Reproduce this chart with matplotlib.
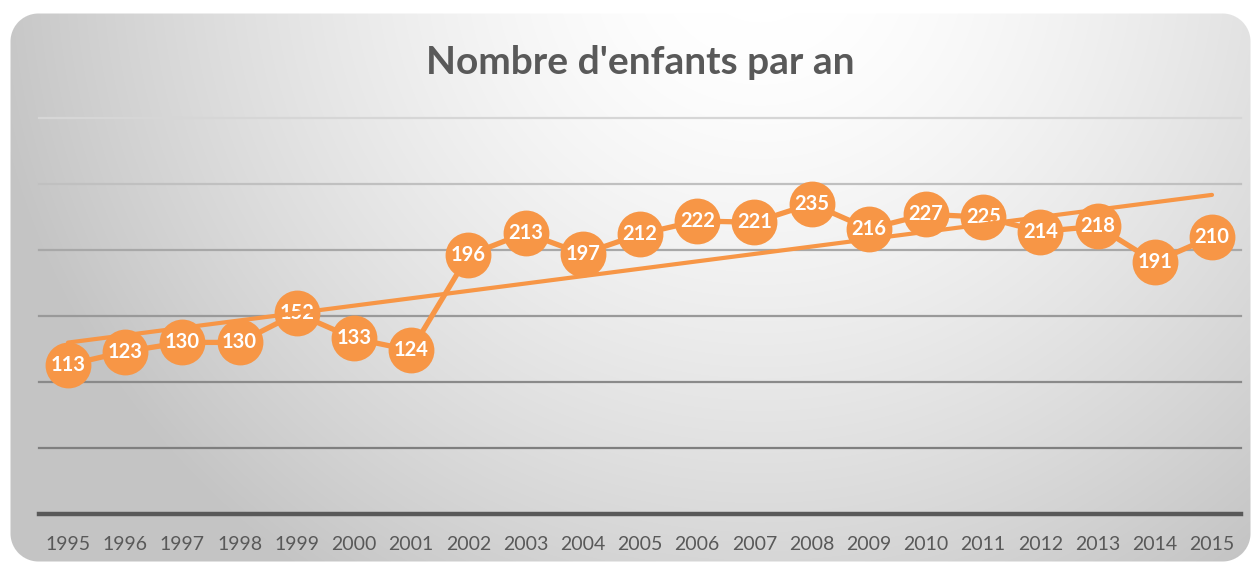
import numpy as np
import matplotlib
matplotlib.use("Agg")
import matplotlib.pyplot as plt

years = ["1995", "1996", "1997", "1998", "1999", "2000", "2001", "2002", "2003", "2004",
         "2005", "2006", "2007", "2008", "2009", "2010", "2011", "2012", "2013", "2014", "2015"]
enfants = [113, 123, 130, 130, 152, 133, 124, 196, 213, 197,
           212, 222, 221, 235, 216, 227, 225, 214, 218, 191, 210]
title = "Nombre d'enfants par an"
y_ticks = [0, 50, 100, 150, 200, 250, 300]

ORANGE = "#F79646"
W, H = 1258, 563
fig = plt.figure(figsize=(W / 100, H / 100), dpi=100)

# background: rounded rectangle with radial gray gradient
yy, xx = np.mgrid[0:H, 0:W].astype(float)
d = np.sqrt(((xx - 760) / 640) ** 2 + ((yy + 40) / 620) ** 2)
c = np.clip(255 - 50 * np.clip(d - 0.1, 0, None) ** 1.4, 196, 255) / 255.0
x0, x1, y0, y1, r = 10, 1250, 13, 561, 28
cx = np.clip(xx, x0 + r, x1 - r)
cy = np.clip(yy, y0 + r, y1 - r)
dist = np.sqrt((xx - cx) ** 2 + (yy - cy) ** 2) - r
alpha = np.clip(0.5 - dist, 0, 1)
img = np.ones((H, W, 4))
img[..., 0] = img[..., 1] = img[..., 2] = c
img[..., 3] = alpha
fig.figimage(img, xo=0, yo=0, origin="upper", zorder=-10)

left = 39.4 / W
right = 1240.6 / W
bottom = (H - 514) / H
top = (H - 118) / H
ax = fig.add_axes([left, bottom, right - left, top - bottom])
ax.set_zorder(5)
ax.patch.set_alpha(0)
x = np.arange(len(years))
ax.set_xlim(-0.5, len(years) - 0.5)
ax.set_ylim(y_ticks[0], y_ticks[-1])
for s in ax.spines.values():
    s.set_visible(False)

grid_colors = ["#595959", "#7f7f7f", "#8a8a8a", "#999999", "#a8a8a8", "#c0c0c0", "#d6d6d6"]
for v, gc in zip(y_ticks, grid_colors):
    ax.axhline(v, color=gc, lw=3.2 if v == 0 else 1.6, zorder=1, clip_on=False)

ax.plot(x, enfants, color=ORANGE, lw=3.8, marker="o", markersize=33,
        markeredgewidth=0, zorder=3, solid_capstyle="round")
for xi, v in zip(x, enfants):
    ax.text(xi, v, str(v), ha="center", va="center", color="white",
            fontsize=14.5, fontweight="bold", family="Lato", zorder=4)

coef = np.polyfit(x, enfants, 1)
ax.plot(x[[0, -1]], np.polyval(coef, x[[0, -1]]), color=ORANGE, lw=3.0,
        zorder=5, solid_capstyle="round")

ax.set_yticks([])
ax.set_xticks(x)
ax.set_xticklabels(years, fontsize=14, color="#595959", family="Lato")
ax.tick_params(axis="x", length=0, pad=16)

fig.text(640 / W, 1 - 62 / H, title, ha="center", va="center", fontsize=28,
         fontweight="bold", color="#595959", family="Lato", zorder=6)

fig.savefig("out.png", dpi=100)
